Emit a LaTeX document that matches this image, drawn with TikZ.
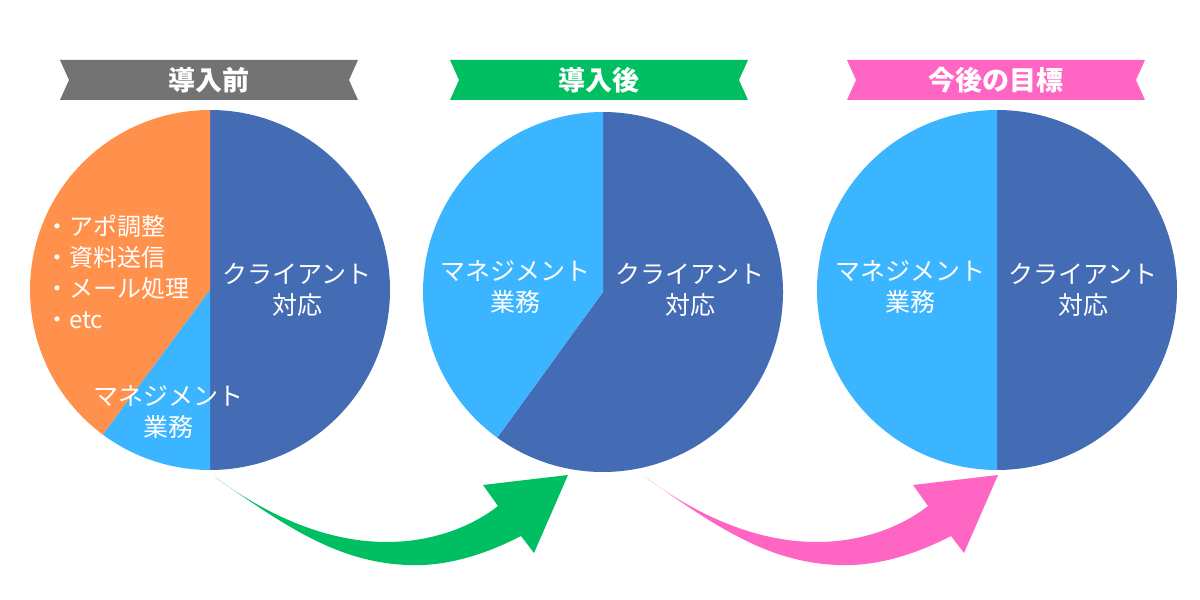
\documentclass[tikz,border=0pt]{standalone}
\usepackage{fontspec}
\setmainfont{Noto Sans CJK JP}
\usetikzlibrary{positioning}
\definecolor{mdark}{HTML}{436CB4}
\definecolor{mlight}{HTML}{3BB5FF}
\definecolor{morange}{HTML}{FF914C}
\definecolor{mgreen}{HTML}{00BF63}
\definecolor{mpink}{HTML}{FF66C4}
\definecolor{mgray}{HTML}{737373}
\tikzset{slicetext/.style = {text = white, font = \fontsize{25}{31}\selectfont, align = center, inner sep = 0}}
\tikzset{listtext/.style = {text = white, font = \fontsize{24}{31}\selectfont, align = left, inner sep = 0}}
\tikzset{bannertext/.style = {text = white, font = \fontsize{27}{30}\selectfont\bfseries, inner sep = 0}}
% ribbon: name, left, right, colour, text
\newcommand\ribbon[5]{%
  \fill [#4] (#2, 540) -- (#3, 540) -- ++(-9, -20) -- (#3, 500) -- (#2, 500) -- ++(9, 20) -- cycle;
  \node [bannertext] (#1) at ({(#2 + #3) / 2}, 520) {#5};}
% slice: colour, centre, start angle, end angle
\newcommand\slice[4]{%
  \fill [#1] (#2) -- ++(#3:180) arc [start angle = #3, end angle = #4, radius = 180] -- cycle;}
% sweep arrow: colour, shift
\newcommand\sweep[2]{%
  \fill [#1, shift = {(#2, 0)}] (215, 123) .. controls (290, 70) and (340, 38) .. (407, 35)
    .. controls (450, 33) and (490, 48) .. (521, 64) -- (534, 47) -- (568, 125) -- (483, 115) -- (498, 94)
    .. controls (470, 72) and (430, 58) .. (387, 58) .. controls (320, 58) and (260, 90) .. (215, 123) -- cycle;}

\begin{document}
\begin{tikzpicture}[x = 1pt, y = 1pt]
    \useasboundingbox (0, 0) rectangle (1200, 600);

    \coordinate (c1) at (210, 310);
    \coordinate (c2) at (603, 308);
    \coordinate (c3) at (997, 310);

    \ribbon{before}{60}{358}{mgray}{導入前}
    \ribbon{after}{450}{748}{mgreen}{導入後}
    \ribbon{goal}{847}{1145}{mpink}{今後の目標}

    \slice{mdark}{c1}{-90}{90}
    \slice{morange}{c1}{90}{233.5}
    \slice{mlight}{c1}{233.5}{270}

    \slice{mdark}{c2}{-126}{90}
    \slice{mlight}{c2}{90}{234}

    \slice{mdark}{c3}{-90}{90}
    \slice{mlight}{c3}{90}{270}

    \node [listtext, anchor = west] (tasks) at (45, 328) {・アポ調整\\・資料送信\\・メール処理\\・etc};
    \node [slicetext] (client1) at (297, 310) {クライアント\\対応};
    \node [slicetext] (mgmt1) at (168, 188) {マネジメント\\業務};
    \node [slicetext] (mgmt2) at (515, 313) {マネジメント\\業務};
    \node [slicetext] (client2) at (690, 310) {クライアント\\対応};
    \node [slicetext] (mgmt3) at (910, 313) {マネジメント\\業務};
    \node [slicetext] (client3) at (1083, 310) {クライアント\\対応};

    \sweep{mgreen}{0}
    \sweep{mpink}{430}
\end{tikzpicture}
\end{document}
